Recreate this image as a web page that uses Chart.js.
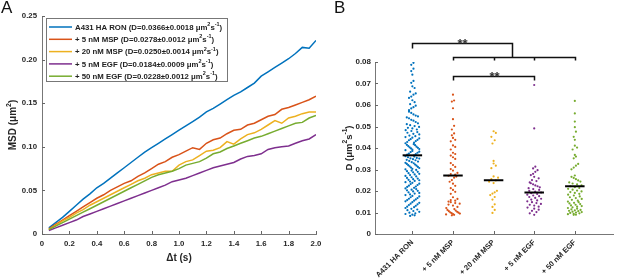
<!DOCTYPE html>
<html>
<head>
<meta charset="utf-8">
<script src="https://cdn.jsdelivr.net/npm/chart.js@4.4.0/dist/chart.umd.min.js"></script>
<style>
  html, body { margin: 0; padding: 0; background: #fff; }
  body { width: 617px; height: 278px; position: relative; overflow: hidden; font-family: "Liberation Sans", Arial, sans-serif; }
  #msdChart { position: absolute; left: 0; top: 0; }
  #diffChart { position: absolute; left: 330px; top: 0; }
  .panel { position: absolute; font-size: 17px; line-height: 1; color: #111; }
</style>
</head>
<body>
<canvas id="msdChart" width="330" height="278"></canvas>
<canvas id="diffChart" width="287" height="278"></canvas>
<div class="panel" style="left:1px;top:-1px">A</div>
<div class="panel" style="left:334px;top:-1px">B</div>
<script>
// ---- panel A: MSD curves ----
const lagTimes = [0.05, 0.1, 0.15, 0.2, 0.25, 0.3, 0.35, 0.4, 0.45, 0.5,
    0.55, 0.6, 0.65, 0.7, 0.75, 0.8, 0.85, 0.9, 0.95, 1.0,
    1.05, 1.1, 1.15, 1.2, 1.25, 1.3, 1.35, 1.4, 1.45, 1.5,
    1.55, 1.6, 1.65, 1.7, 1.75, 1.8, 1.85, 1.9, 1.95, 2.0];

const seriesNames = ["A431 HA RON", "+ 5 nM MSP", "+ 20 nM MSP", "+ 5 nM EGF", "+ 50 nM EGF"];
const seriesColors = ["#0072BD", "#D95319", "#EDB120", "#7E2F8E", "#77AC30"];
const legendD = [0.0366, 0.0278, 0.0250, 0.0184, 0.0228];
const legendErr = [0.0018, 0.0012, 0.0014, 0.0009, 0.0012];

const msdRon = [0.007, 0.013, 0.019, 0.026, 0.033, 0.040, 0.046, 0.053, 0.058, 0.064,
    0.070, 0.076, 0.082, 0.088, 0.094, 0.099, 0.104, 0.109, 0.114, 0.119,
    0.124, 0.129, 0.134, 0.140, 0.144, 0.149, 0.154, 0.159, 0.163, 0.168,
    0.173, 0.181, 0.186, 0.191, 0.196, 0.201, 0.207, 0.214, 0.213, 0.222];
const msdMsp5 = [0.006, 0.011, 0.016, 0.021, 0.026, 0.031, 0.036, 0.041, 0.045, 0.050,
    0.054, 0.058, 0.061, 0.066, 0.070, 0.075, 0.080, 0.083, 0.088, 0.091,
    0.095, 0.099, 0.097, 0.104, 0.108, 0.110, 0.115, 0.119, 0.120, 0.125,
    0.127, 0.131, 0.135, 0.137, 0.143, 0.145, 0.148, 0.151, 0.154, 0.158];
const msdMsp20 = [0.005, 0.010, 0.015, 0.019, 0.024, 0.028, 0.033, 0.037, 0.041, 0.045,
    0.049, 0.053, 0.057, 0.061, 0.064, 0.068, 0.070, 0.072, 0.072, 0.079,
    0.083, 0.085, 0.090, 0.095, 0.096, 0.099, 0.106, 0.103, 0.109, 0.114,
    0.116, 0.120, 0.125, 0.130, 0.127, 0.133, 0.135, 0.138, 0.140, 0.140];
const msdEgf5 = [0.004, 0.007, 0.010, 0.013, 0.016, 0.020, 0.023, 0.026, 0.029, 0.032,
    0.035, 0.038, 0.041, 0.044, 0.047, 0.050, 0.053, 0.056, 0.060, 0.062,
    0.064, 0.067, 0.070, 0.073, 0.076, 0.078, 0.080, 0.082, 0.086, 0.089,
    0.090, 0.092, 0.097, 0.099, 0.100, 0.101, 0.104, 0.107, 0.109, 0.114];
const msdEgf50 = [0.005, 0.009, 0.013, 0.017, 0.021, 0.025, 0.029, 0.033, 0.037, 0.041,
    0.045, 0.049, 0.053, 0.057, 0.061, 0.065, 0.068, 0.070, 0.072, 0.075,
    0.079, 0.081, 0.083, 0.087, 0.092, 0.094, 0.098, 0.101, 0.104, 0.107,
    0.110, 0.112, 0.115, 0.118, 0.121, 0.124, 0.127, 0.128, 0.133, 0.136];

// ---- panel B: per-cell diffusion coefficients ----
const conditions = ["A431 HA RON", "+ 5 nM MSP", "+ 20 nM MSP", "+ 5 nM EGF", "+ 50 nM EGF"];
const dRon = [0.0796, 0.0787, 0.0769, 0.0758, 0.0741, 0.0712, 0.0703, 0.0687, 0.0679, 0.0662,
    0.0654, 0.0648, 0.0639, 0.0633, 0.0622, 0.0613, 0.0604, 0.0597, 0.0590, 0.0584,
    0.0576, 0.0569, 0.0563, 0.0556, 0.0551, 0.0547, 0.0542, 0.0538, 0.0531, 0.0527,
    0.0521, 0.0515, 0.0511, 0.0506, 0.0502, 0.0498, 0.0494, 0.0491, 0.0486, 0.0483,
    0.0479, 0.0474, 0.0471, 0.0466, 0.0463, 0.0458, 0.0455, 0.0451, 0.0448, 0.0445,
    0.0441, 0.0438, 0.0436, 0.0432, 0.0428, 0.0425, 0.0422, 0.0418, 0.0415, 0.0413,
    0.0409, 0.0406, 0.0403, 0.0401, 0.0398, 0.0395, 0.0392, 0.0390, 0.0386, 0.0383,
    0.0381, 0.0378, 0.0374, 0.0372, 0.0369, 0.0366, 0.0362, 0.0360, 0.0357, 0.0354,
    0.0352, 0.0351, 0.0348, 0.0345, 0.0343, 0.0340, 0.0337, 0.0334, 0.0331, 0.0329,
    0.0326, 0.0323, 0.0320, 0.0318, 0.0315, 0.0312, 0.0309, 0.0307, 0.0303, 0.0301,
    0.0298, 0.0295, 0.0292, 0.0289, 0.0287, 0.0283, 0.0280, 0.0277, 0.0274, 0.0270,
    0.0268, 0.0264, 0.0261, 0.0258, 0.0255, 0.0252, 0.0250, 0.0247, 0.0244, 0.0241,
    0.0238, 0.0234, 0.0232, 0.0228, 0.0225, 0.0221, 0.0219, 0.0215, 0.0212, 0.0209,
    0.0206, 0.0203, 0.0201, 0.0198, 0.0194, 0.0191, 0.0188, 0.0184, 0.0181, 0.0177,
    0.0175, 0.0171, 0.0167, 0.0164, 0.0161, 0.0158, 0.0155, 0.0152, 0.0148, 0.0145,
    0.0141, 0.0138, 0.0135, 0.0131, 0.0127, 0.0125, 0.0121, 0.0117, 0.0114, 0.0111,
    0.0107, 0.0103, 0.0099, 0.0096, 0.0093, 0.0090, 0.0087, 0.0084];
const dMsp5 = [0.0648, 0.0621, 0.0616, 0.0585, 0.0534, 0.0503, 0.0486, 0.0468, 0.0459, 0.0447,
    0.0438, 0.0431, 0.0412, 0.0405, 0.0393, 0.0378, 0.0372, 0.0365, 0.0357, 0.0349,
    0.0330, 0.0321, 0.0312, 0.0302, 0.0295, 0.0284, 0.0279, 0.0276, 0.0271, 0.0267,
    0.0262, 0.0251, 0.0243, 0.0234, 0.0224, 0.0213, 0.0205, 0.0196, 0.0187, 0.0171,
    0.0163, 0.0158, 0.0155, 0.0151, 0.0148, 0.0144, 0.0141, 0.0137, 0.0132, 0.0126,
    0.0121, 0.0116, 0.0112, 0.0109, 0.0106, 0.0103, 0.0101, 0.0099, 0.0097, 0.0095,
    0.0093, 0.0091, 0.0089, 0.0087];
const dMsp20 = [0.0478, 0.0470, 0.0452, 0.0436, 0.0421, 0.0340, 0.0328, 0.0318, 0.0306, 0.0268,
    0.0262, 0.0255, 0.0249, 0.0243, 0.0237, 0.0201, 0.0194, 0.0188, 0.0181, 0.0172,
    0.0160, 0.0138, 0.0126, 0.0112, 0.0098];
const dEgf5 = [0.0693, 0.0491, 0.0313, 0.0305, 0.0297, 0.0289, 0.0280, 0.0274, 0.0266, 0.0259,
    0.0251, 0.0246, 0.0240, 0.0236, 0.0231, 0.0226, 0.0222, 0.0217, 0.0213, 0.0209,
    0.0205, 0.0201, 0.0197, 0.0193, 0.0190, 0.0186, 0.0183, 0.0179, 0.0176, 0.0172,
    0.0168, 0.0164, 0.0160, 0.0156, 0.0152, 0.0148, 0.0144, 0.0140, 0.0136, 0.0132,
    0.0127, 0.0123, 0.0118, 0.0113, 0.0108, 0.0102, 0.0096, 0.0089];
const dEgf50 = [0.0619, 0.0561, 0.0523, 0.0497, 0.0476, 0.0452, 0.0438, 0.0411, 0.0402, 0.0393,
    0.0368, 0.0360, 0.0352, 0.0326, 0.0318, 0.0309, 0.0301, 0.0272, 0.0266, 0.0261,
    0.0255, 0.0249, 0.0244, 0.0240, 0.0235, 0.0231, 0.0226, 0.0222, 0.0218, 0.0214,
    0.0210, 0.0206, 0.0202, 0.0198, 0.0195, 0.0191, 0.0187, 0.0183, 0.0179, 0.0175,
    0.0171, 0.0167, 0.0163, 0.0159, 0.0155, 0.0151, 0.0148, 0.0145, 0.0142, 0.0139,
    0.0136, 0.0133, 0.0130, 0.0127, 0.0124, 0.0121, 0.0118, 0.0115, 0.0112, 0.0110,
    0.0108, 0.0106, 0.0104, 0.0102, 0.0100, 0.0098, 0.0096, 0.0094, 0.0092, 0.0090, 0.0089];
const dMeans = [0.0366, 0.0272, 0.0250, 0.0193, 0.0222];

const FONT = "'Liberation Sans', Arial, sans-serif";
Chart.defaults.font.family = FONT;
Chart.defaults.font.weight = "bold";
Chart.defaults.color = "#262626";

// text with ^{..} superscripts
function richWidth(ctx, str, size) {
    let w = 0;
    str.split(/(\^\{[^}]*\})/).forEach(part => {
        if (!part) return;
        const sup = part.startsWith("^{");
        ctx.font = `bold ${sup ? size * 0.7 : size}px ${FONT}`;
        w += ctx.measureText(sup ? part.slice(2, -1) : part).width;
    });
    return w;
}
function drawRich(ctx, str, x, y, size) {
    str.split(/(\^\{[^}]*\})/).forEach(part => {
        if (!part) return;
        const sup = part.startsWith("^{");
        const txt = sup ? part.slice(2, -1) : part;
        ctx.font = `bold ${sup ? size * 0.7 : size}px ${FONT}`;
        ctx.fillText(txt, x, sup ? y - size * 0.38 : y);
        x += ctx.measureText(txt).width;
    });
}

// MATLAB-ish inward ticks
const inwardTicks = {
    id: "inwardTicks",
    afterDraw(chart) {
        const { ctx, chartArea, scales } = chart;
        ctx.save();
        ctx.strokeStyle = "#666";
        ctx.lineWidth = 1;
        ctx.beginPath();
        scales.x.ticks.forEach(t => {
            const px = Math.round(scales.x.getPixelForValue(t.value)) + 0.5;
            ctx.moveTo(px, chartArea.bottom);
            ctx.lineTo(px, chartArea.bottom - 3);
        });
        scales.y.ticks.forEach(t => {
            const py = Math.round(scales.y.getPixelForValue(t.value)) + 0.5;
            ctx.moveTo(chartArea.left, py);
            ctx.lineTo(chartArea.left + 3, py);
        });
        ctx.stroke();
        ctx.restore();
    }
};

const yTitle = {
    id: "yTitle",
    afterDraw(chart, args, opts) {
        const { ctx, chartArea } = chart;
        const w = richWidth(ctx, opts.text, opts.size);
        ctx.save();
        ctx.translate(opts.x, (chartArea.top + chartArea.bottom) / 2);
        ctx.rotate(-Math.PI / 2);
        ctx.fillStyle = "#262626";
        ctx.textBaseline = "middle";
        ctx.textAlign = "left";
        drawRich(ctx, opts.text, -w / 2, 0, opts.size);
        ctx.restore();
    }
};

const msdLegend = {
    id: "msdLegend",
    afterDraw(chart) {
        const { ctx } = chart;
        ctx.save();
        ctx.fillStyle = "#fff";
        ctx.fillRect(46, 18, 181, 63);
        ctx.strokeStyle = "#777";
        ctx.lineWidth = 1;
        ctx.strokeRect(46.5, 18.5, 181, 63);
        chart.data.datasets.forEach((ds, i) => {
            const y = 27 + i * 12.3;
            ctx.strokeStyle = ds.borderColor;
            ctx.lineWidth = 1.5;
            ctx.beginPath();
            ctx.moveTo(49, y);
            ctx.lineTo(72, y);
            ctx.stroke();
            ctx.fillStyle = "#222";
            ctx.textBaseline = "middle";
            const txt = `${ds.label} (D=${legendD[i].toFixed(4)}\u00b1${legendErr[i].toFixed(4)} \u03bcm^{2}s^{-1})`;
            drawRich(ctx, txt, 75, y + 0.5, 7.8);
        });
        ctx.restore();
    }
};

const msdSeries = [msdRon, msdMsp5, msdMsp20, msdEgf5, msdEgf50];

new Chart(document.getElementById("msdChart"), {
    type: "line",
    data: {
        datasets: msdSeries.map((vals, i) => ({
            label: seriesNames[i],
            data: vals.map((v, j) => ({ x: lagTimes[j], y: v })),
            borderColor: seriesColors[i],
            borderWidth: 1.5,
            pointRadius: 0,
            fill: false,
            tension: 0,
            order: 5 - i
        }))
    },
    options: {
        responsive: false,
        animation: false,
        layout: { padding: { top: 16, right: 14, bottom: 14, left: 0 } },
        plugins: {
            legend: { display: false },
            tooltip: { enabled: false },
            yTitle: { text: "MSD (\u03bcm^{2})", x: 13, size: 10 }
        },
        scales: {
            x: {
                type: "linear",
                min: 0,
                max: 2,
                ticks: { stepSize: 0.2, font: { size: 7.8 }, maxRotation: 0, autoSkip: false, padding: 5 },
                grid: { display: false, drawTicks: false },
                border: { color: "#777" },
                title: { display: true, text: "\u0394t (s)", font: { size: 10 }, padding: { top: 2, bottom: 0 } },
                afterFit: s => { s.height = 30; }
            },
            y: {
                min: 0,
                max: 0.25,
                ticks: { stepSize: 0.05, font: { size: 7.8 }, padding: 5 },
                grid: { display: false, drawTicks: false },
                border: { color: "#777" },
                afterFit: s => { s.width = 42; }
            }
        }
    },
    plugins: [inwardTicks, yTitle, msdLegend]
});

// spread the points of one group sideways, plotSpread style (bins by value)
function gcd(a, b) { return b ? gcd(b, a % b) : a; }
function spreadGroup(values, center) {
    const binSize = 0.003, gap = 0.055, maxHalf = 0.17;
    const bins = new Map();
    values.forEach(v => {
        const k = Math.floor(v / binSize);
        if (!bins.has(k)) bins.set(k, []);
        bins.get(k).push(v);
    });
    const pts = [];
    bins.forEach(list => {
        list.sort((a, b) => a - b);
        const n = list.length;
        const step = n > 1 ? Math.min(gap, (2 * maxHalf) / (n - 1)) : 0;
        const stride = [5, 3, 7, 2, 1].find(s => gcd(s, n) === 1);
        list.forEach((v, k) => {
            const slot = (k * stride) % n;
            pts.push({ x: center + (slot - (n - 1) / 2) * step, y: v });
        });
    });
    return pts;
}

const dGroups = [dRon, dMsp5, dMsp20, dEgf5, dEgf50];

const brackets = {
    id: "brackets",
    afterDraw(chart) {
        const { ctx, scales: { x, y } } = chart;
        const X = v => Math.round(x.getPixelForValue(v)) + 0.5;
        const Y = v => Math.round(y.getPixelForValue(v)) + 0.5;
        ctx.save();
        ctx.strokeStyle = "#111";
        ctx.lineWidth = 1.5;
        ctx.beginPath();
        // treated groups joined
        ctx.moveTo(X(2), Y(0.0808)); ctx.lineTo(X(2), Y(0.0823)); ctx.lineTo(X(5), Y(0.0823)); ctx.lineTo(X(5), Y(0.0808));
        ctx.moveTo(X(3), Y(0.0823)); ctx.lineTo(X(3), Y(0.0808));
        ctx.moveTo(X(4), Y(0.0823)); ctx.lineTo(X(4), Y(0.0808));
        // control vs treated
        ctx.moveTo(X(1), Y(0.0865)); ctx.lineTo(X(1), Y(0.0888)); ctx.lineTo(X(3.45), Y(0.0888)); ctx.lineTo(X(3.45), Y(0.0823));
        // 5 nM MSP vs 5 nM EGF
        ctx.moveTo(X(2), Y(0.0716)); ctx.lineTo(X(2), Y(0.0735)); ctx.lineTo(X(4), Y(0.0735)); ctx.lineTo(X(4), Y(0.0716));
        ctx.stroke();
        ctx.fillStyle = "#333";
        ctx.font = `bold 13px ${FONT}`;
        ctx.textAlign = "center";
        ctx.textBaseline = "alphabetic";
        ctx.fillText("**", X(2.225), Y(0.0888) + 4);
        ctx.fillText("**", X(3), Y(0.0735) + 4);
        ctx.restore();
    }
};

new Chart(document.getElementById("diffChart"), {
    type: "scatter",
    data: {
        datasets: [
            ...dMeans.map((m, i) => ({
                type: "line",
                data: [{ x: i + 1 - 0.24, y: m }, { x: i + 1 + 0.24, y: m }],
                borderColor: "#000",
                borderWidth: 2,
                pointRadius: 0,
                order: 0
            })),
            ...dGroups.map((vals, i) => ({
                label: conditions[i],
                data: spreadGroup(vals, i + 1),
                backgroundColor: seriesColors[i],
                borderWidth: 0,
                pointRadius: 1.1,
                order: 1
            }))
        ]
    },
    options: {
        responsive: false,
        animation: false,
        layout: { padding: { top: 62, right: 0, bottom: 0, left: 0 } },
        plugins: {
            legend: { display: false },
            tooltip: { enabled: false },
            yTitle: { text: "D (\u03bcm^{2}s^{-1})", x: 19, size: 9.5 }
        },
        scales: {
            x: {
                type: "linear",
                min: 0.08,
                max: 5.94,
                afterBuildTicks: s => { s.ticks = conditions.map((c, i) => ({ value: i + 1 })); },
                ticks: {
                    callback: v => conditions[v - 1],
                    font: { size: 7.5 },
                    maxRotation: 45,
                    minRotation: 45,
                    autoSkip: false,
                    padding: 4
                },
                grid: { display: false, drawTicks: false },
                border: { color: "#777" },
                afterFit: s => { s.height = 44; }
            },
            y: {
                min: 0,
                max: 0.08,
                ticks: { stepSize: 0.01, font: { size: 8 }, padding: 4 },
                grid: { display: false, drawTicks: false },
                border: { color: "#777" },
                afterFit: s => { s.width = 45; }
            }
        }
    },
    plugins: [inwardTicks, yTitle, brackets]
});
</script>
</body>
</html>
